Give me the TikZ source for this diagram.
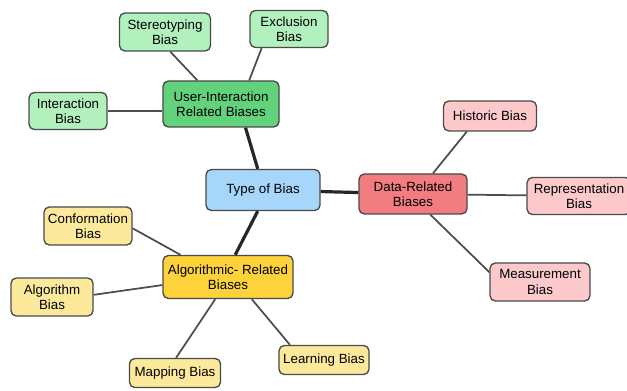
\documentclass[tikz,border=0pt]{standalone}
\usepackage{fontspec}
\setmainfont{Liberation Sans}
\usepackage{xcolor}
\usepackage{tikz}
\usetikzlibrary{positioning,calc}

\definecolor{rootblue}{HTML}{A6D6FA}
\definecolor{usergreen}{HTML}{62D27C}
\definecolor{leafgreen}{HTML}{B2F1BE}
\definecolor{datared}{HTML}{F27D80}
\definecolor{leafpink}{HTML}{FDC9CB}
\definecolor{algoyellow}{HTML}{FDD23A}
\definecolor{leafyellow}{HTML}{FDE99B}
\definecolor{boxline}{HTML}{4A4A4A}

\tikzset{
    bbox/.style={draw=boxline, line width=1pt, rounded corners=4pt, align=center, inner sep=1pt,
        font=\fontsize{10}{11.5}\selectfont},
    wd/.style={minimum width=#1*0.75pt},
    ht/.style={minimum height=#1*0.75pt},
    twig/.style={draw=gray!60!black, line width=1.3pt},
    trunk/.style={draw=black!85, line width=2.4pt}
}

\begin{document}
\begin{tikzpicture}[x=0.75pt, y=-0.75pt]
    \useasboundingbox (0,0) rectangle (627,391);

    % Centre
    \node [bbox, fill=rootblue, wd=114, ht=41] (root) at (263,190) {Type of Bias};

    % User-interaction branch
    \node [bbox, fill=usergreen, wd=116, ht=46] (user) at (221,104) {User-Interaction\\Related Biases};
    \node [bbox, fill=leafgreen, wd=91, ht=38] (stereo) at (165,32) {Stereotyping\\Bias};
    \node [bbox, fill=leafgreen, wd=78, ht=37] (excl) at (289,29) {Exclusion\\Bias};
    \node [bbox, fill=leafgreen, wd=78, ht=37] (inter) at (68,111) {Interaction\\Bias};

    % Data branch
    \node [bbox, fill=datared, wd=108, ht=40] (data) at (413,194) {Data-Related\\Biases};
    \node [bbox, fill=leafpink, wd=93, ht=30] (hist) at (490,116) {Historic Bias};
    \node [bbox, fill=leafpink, wd=104, ht=37] (repr) at (579,196) {Representation\\Bias};
    \node [bbox, fill=leafpink, wd=100, ht=38] (meas) at (540,282) {Measurement\\Bias};

    % Algorithmic branch
    \node [bbox, fill=algoyellow, wd=130, ht=43] (algo) at (228,277) {Algorithmic- Related\\Biases};
    \node [bbox, fill=leafyellow, wd=88, ht=38] (conf) at (88,226) {Conformation\\Bias};
    \node [bbox, fill=leafyellow, wd=82, ht=38] (algb) at (52,297) {Algorithm\\Bias};
    \node [bbox, fill=leafyellow, wd=91, ht=29] (mapp) at (175,373) {Mapping Bias};
    \node [bbox, fill=leafyellow, wd=90, ht=29] (learn) at (324,360) {Learning Bias};

    % Connectors
    \draw [trunk] (root.104) -- (user.316);
    \draw [trunk] (root) -- (data);
    \draw [trunk] (root.256) -- (algo.72);

    \draw [twig] (stereo.285) -- (user.135);
    \draw [twig] (excl.215) -- (user.40);
    \draw [twig] (inter.east) -- (user.west |- inter.east);

    \draw [twig] (hist.214) -- (data.46);
    \draw [twig] (data) -- (repr);
    \draw [twig] (data.310) -- (meas.169);

    \draw [twig] (conf.-3) -- (algo.155);
    \draw [twig] (algb.3) -- (algo.187);
    \draw [twig] (mapp.86) -- (algo.240);
    \draw [twig] (learn.156) -- (algo.317);
\end{tikzpicture}
\end{document}
